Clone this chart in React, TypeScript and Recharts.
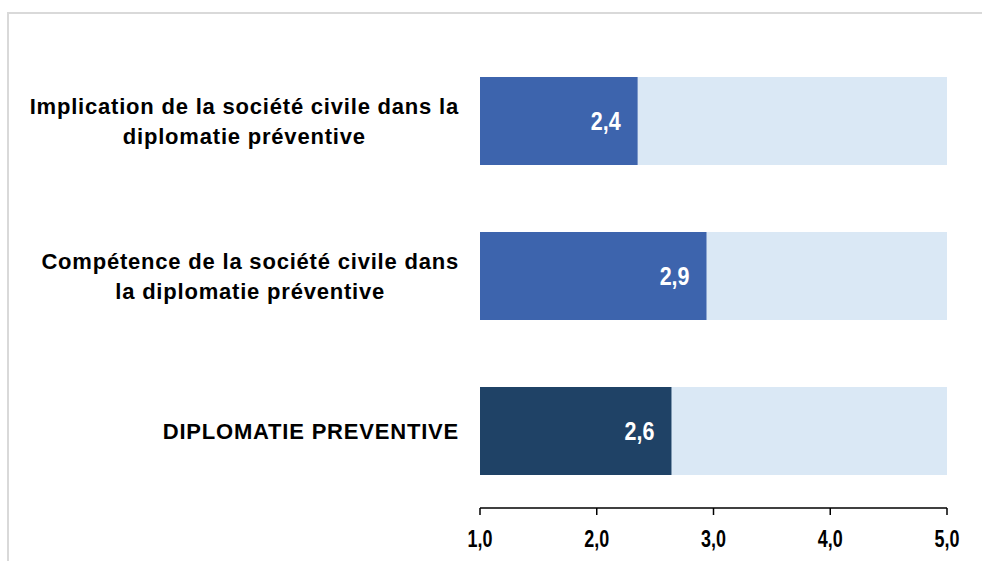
import React from "react";
import { BarChart, Bar, XAxis, YAxis, Cell, LabelList } from "recharts";

document.body.style.margin = "0";

const categories = [
  "Implication de la société civile dans la\ndiplomatie préventive",
  "Compétence de la société civile dans\nla diplomatie préventive",
  "DIPLOMATIE PREVENTIVE",
];
const scores = [2.35, 2.94, 2.64];
const barColors = ["#3D64AD", "#3D64AD", "#1F4266"];
const xTicks = [1, 2, 3, 4, 5];

const data = categories.map((name, i) => ({ name, score: scores[i] }));

const fmt = (v: number) => v.toFixed(1).replace(".", ",");

const FONT = "'Liberation Sans', Arial, sans-serif";
const LS = 0.8;
const labelFont = `bold 22px 'Liberation Sans', Arial, sans-serif`;
let ctx: CanvasRenderingContext2D | null = null;
const measure = (s: string) => {
  if (!ctx) ctx = document.createElement("canvas").getContext("2d");
  if (!ctx) return s.length * 11;
  ctx.font = labelFont;
  return ctx.measureText(s).width + s.length * LS;
};

const CategoryTick = (props: any) => {
  const { x, y, payload } = props;
  const lines: string[] = String(payload.value).split("\n");
  const w = Math.max(...lines.map(measure));
  const cx = x - 13 - w / 2;
  const lh = 30;
  const y0 = y - ((lines.length - 1) * lh) / 2 + 8;
  return (
    <text
      textAnchor="middle"
      fontFamily={FONT}
      fontWeight="bold"
      fontSize={22}
      letterSpacing={LS}
      fill="#000"
    >
      {lines.map((l, i) => (
        <tspan key={i} x={cx} y={y0 + i * lh}>
          {l}
        </tspan>
      ))}
    </text>
  );
};

// narrow bold numbers (Arial Narrow look)
const NumberTick = (props: any) => {
  const { x, y, payload } = props;
  return (
    <text
      transform={`translate(${x},${y + 30}) scale(0.78,1)`}
      textAnchor="middle"
      fontFamily={FONT}
      fontWeight="bold"
      fontSize={23}
      fill="#000"
    >
      {fmt(payload.value)}
    </text>
  );
};

const ValueLabel = (props: any) => {
  const { x, y, width, height, value } = props;
  return (
    <text
      transform={`translate(${x + width - 17},${y + height / 2 + 9}) scale(0.86,1)`}
      textAnchor="end"
      fontFamily={FONT}
      fontWeight="bold"
      fontSize={25}
      fill="#fff"
    >
      {fmt(Number(value))}
    </text>
  );
};

export default function App() {
  return (
    <div style={{ position: "relative", width: 982, height: 561, background: "#fff" }}>
      <div
        style={{
          position: "absolute",
          left: 7,
          top: 12,
          right: 0,
          bottom: 0,
          borderTop: "2px solid #d9d9d9",
          borderLeft: "2px solid #d9d9d9",
        }}
      />
      <BarChart
        width={982}
        height={561}
        data={data}
        layout="vertical"
        margin={{ top: 43, right: 35, left: 0, bottom: 23 }}
        style={{ position: "absolute", left: 0, top: 0 }}
      >
        <XAxis
          type="number"
          domain={[1, 5]}
          ticks={xTicks}
          axisLine={{ stroke: "#000", strokeWidth: 1.5 }}
          tickLine={{ stroke: "#000", strokeWidth: 1.5 }}
          tickSize={7}
          tick={<NumberTick />}
          allowDataOverflow
        />
        <YAxis
          type="category"
          dataKey="name"
          width={480}
          axisLine={false}
          tickLine={false}
          tick={<CategoryTick />}
        />
        <Bar dataKey="score" barSize={88} background={{ fill: "#DAE8F5" }} isAnimationActive={false}>
          {data.map((_, i) => (
            <Cell key={i} fill={barColors[i]} />
          ))}
          <LabelList dataKey="score" content={<ValueLabel />} />
        </Bar>
      </BarChart>
    </div>
  );
}
